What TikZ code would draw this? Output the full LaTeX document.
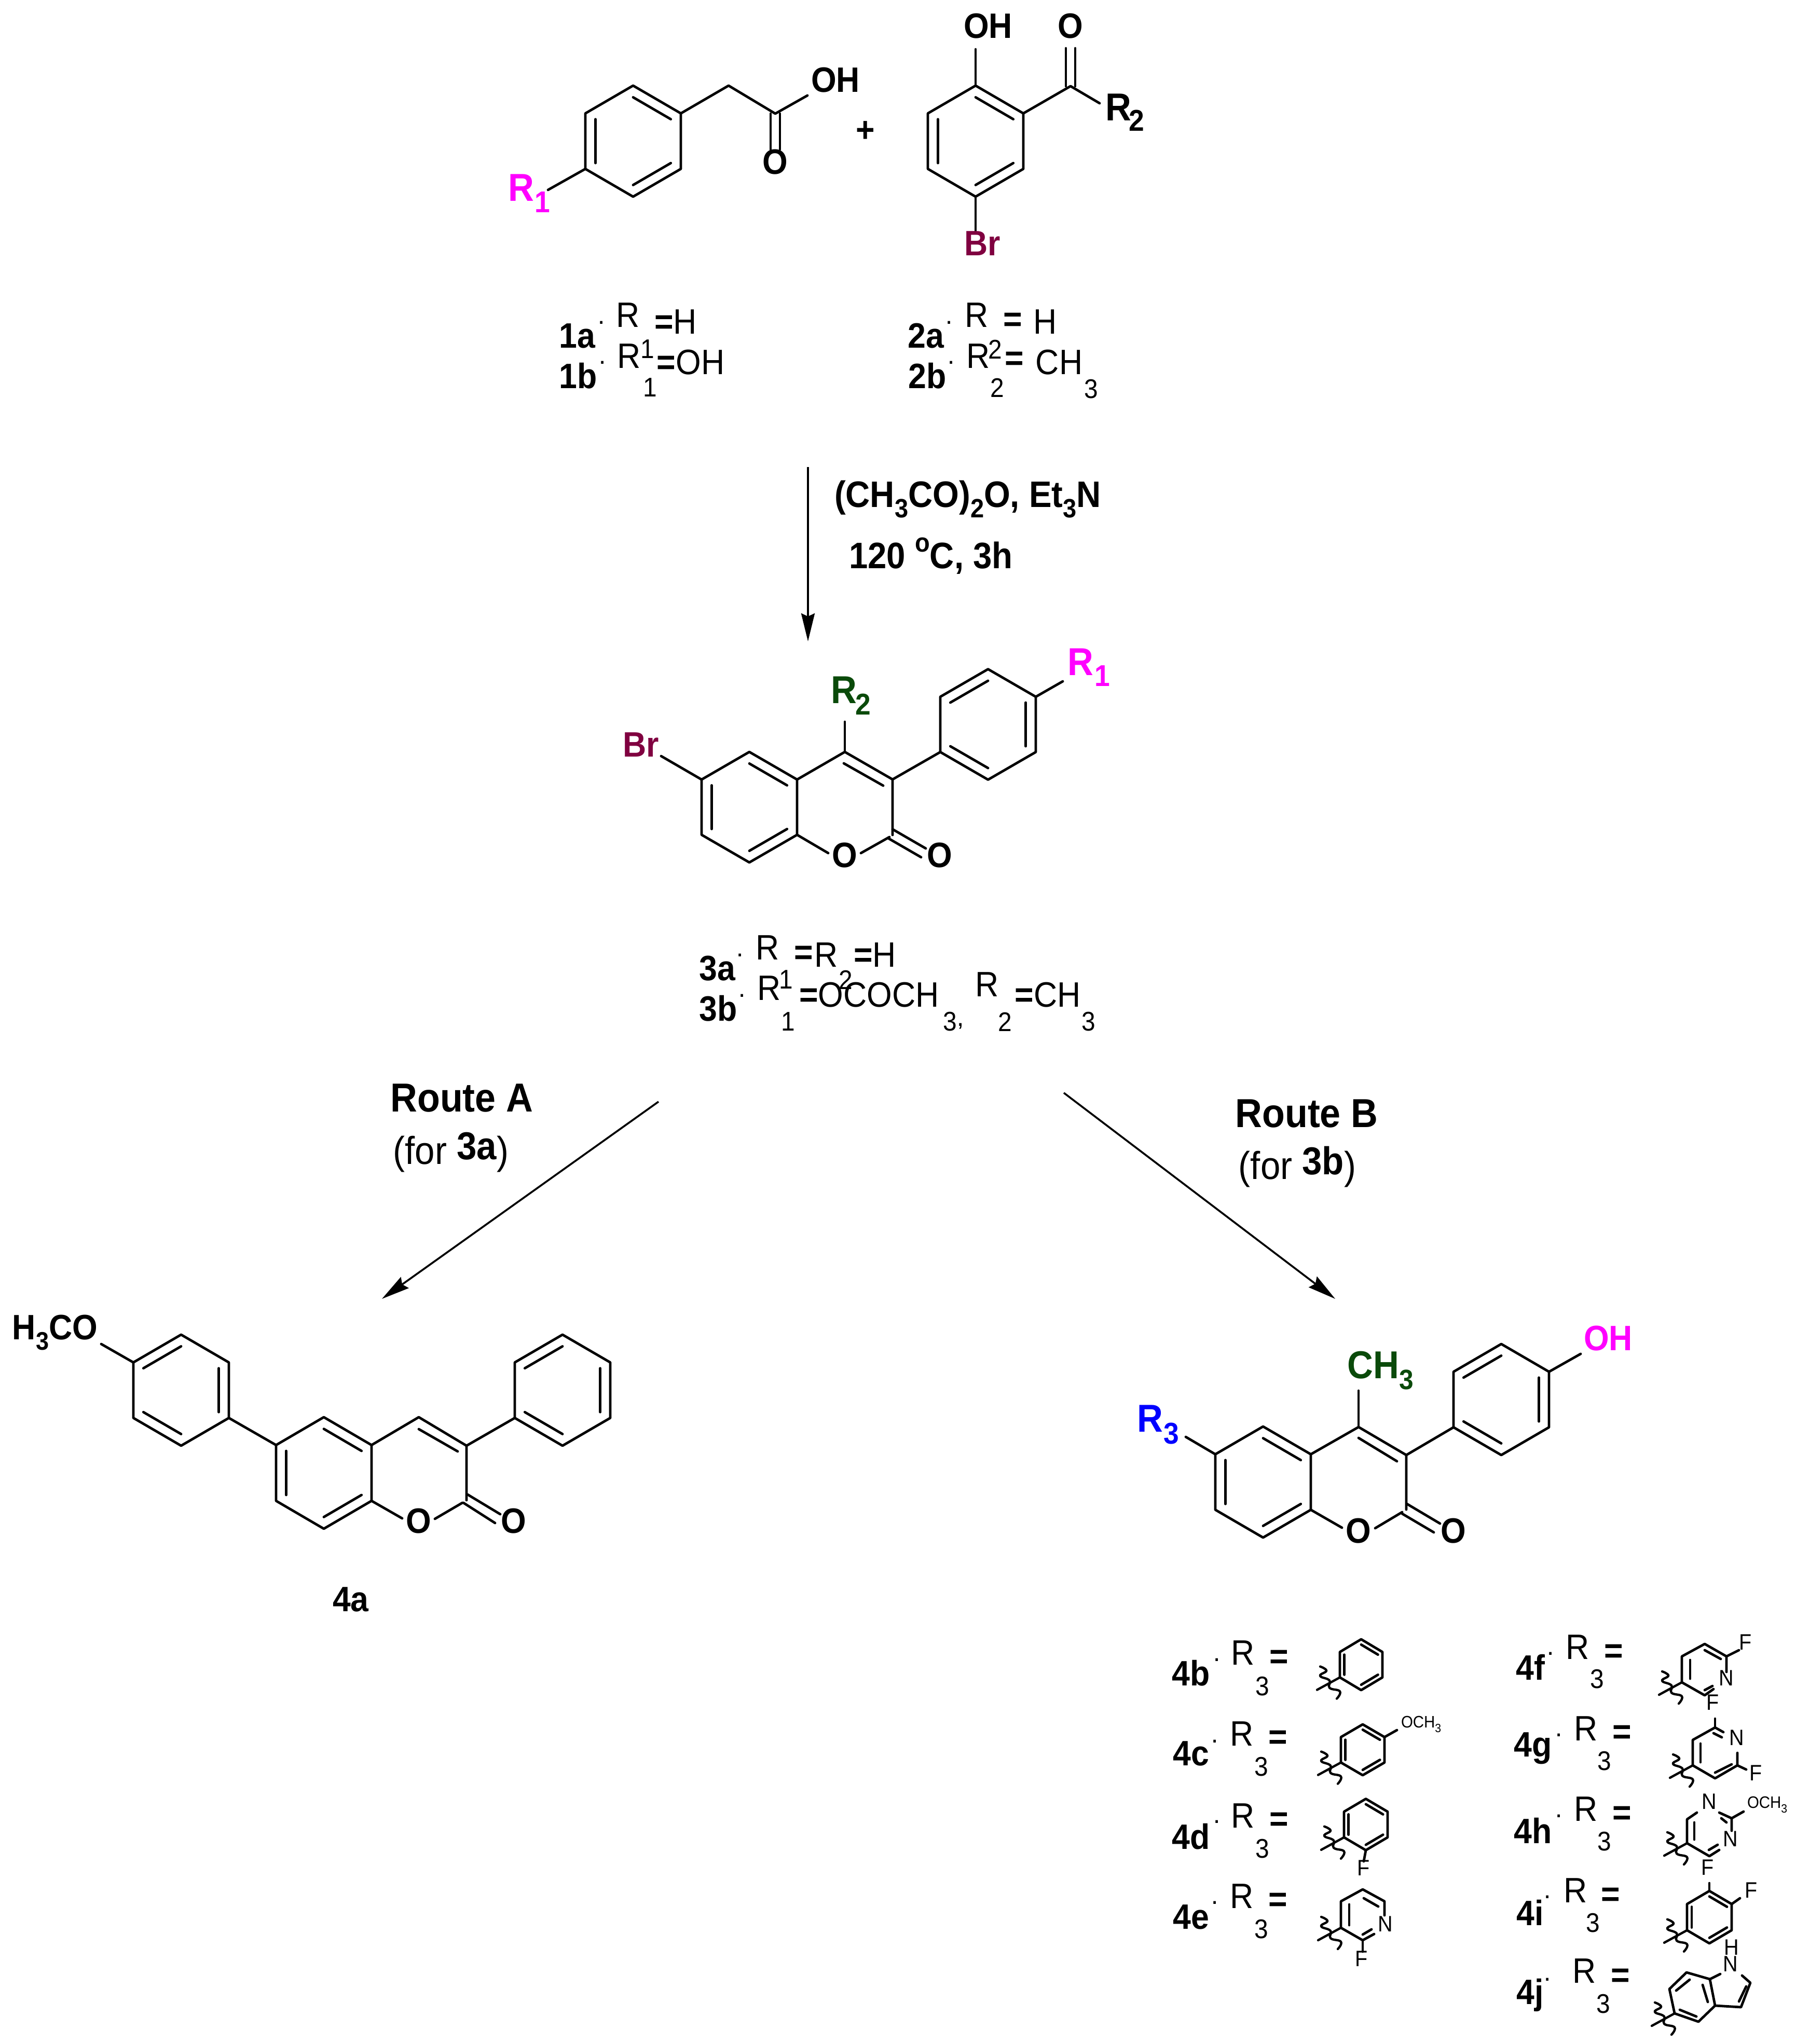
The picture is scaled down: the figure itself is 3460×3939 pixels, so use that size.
\documentclass[tikz,border=0pt]{standalone}
\usepackage{fontspec}
\setmainfont[FakeStretch=0.92]{Liberation Sans}
\usetikzlibrary{calc,arrows.meta}
\definecolor{brc}{HTML}{800040}
\definecolor{grn}{HTML}{0A4A0A}
\definecolor{mgt}{HTML}{FF00FF}
\definecolor{blu}{HTML}{0000FF}
\tikzset{
  bond/.style={line width=2.4pt,line cap=round,line join=round},
  thin bond/.style={line width=2.2pt,line cap=round,line join=round},
  wave/.style={line width=2.2pt,line cap=round},
  rxn/.style={line width=1.8pt,-{Stealth[length=27pt,width=13pt,inset=3pt]}},
  base txt/.style={inner sep=0pt,outer sep=0pt},
  atom/.style={base txt,font=\bfseries\fontsize{34}{36}\selectfont},
  rr/.style={base txt,font=\bfseries\fontsize{37.5}{38}\selectfont},
  rs/.style={base txt,font=\bfseries\fontsize{29}{30}\selectfont},
  lab/.style={base txt,font=\bfseries\fontsize{34}{36}\selectfont},
  tx/.style={base txt,font=\fontsize{34}{36}\selectfont},
  ts/.style={base txt,font=\fontsize{26}{28}\selectfont},
  cond/.style={base txt,font=\bfseries\fontsize{35.5}{37}\selectfont},
  route/.style={base txt,font=\bfseries\fontsize{39}{41}\selectfont},
  forx/.style={base txt,font=\fontsize{37.5}{39}\selectfont},
  dotx/.style={base txt,font=\bfseries\fontsize{18}{19}\selectfont},
  small/.style={base txt,font=\fontsize{21.5}{23}\selectfont},
  ome/.style={base txt,font=\fontsize{16}{17}\selectfont},
}
\newcommand\lo[1]{\raisebox{-.28em}{\scalebox{.72}{#1}}}
\newcommand\pt[3]{\coordinate (#1) at (#2,#3);}
\newcommand\eq{\textbf{=}}
% hexagon: name, cx, cy, half width, half height
\newcommand\hexr[5]{%
  \coordinate (#1c) at (#2,#3);
  \coordinate (#1v1) at (#2,#3-#5);
  \coordinate (#1v2) at (#2+#4,#3-#5/2);
  \coordinate (#1v3) at (#2+#4,#3+#5/2);
  \coordinate (#1v4) at (#2,#3+#5);
  \coordinate (#1v5) at (#2-#4,#3+#5/2);
  \coordinate (#1v6) at (#2-#4,#3-#5/2);
  \draw[bond] (#1v1)--(#1v2)--(#1v3)--(#1v4)--(#1v5)--(#1v6)--cycle;}
\newcommand\inn[3]{\draw[bond] ($(#1c)!.79!(#1v#2)$)--($(#1c)!.79!(#1v#3)$);}
% double bond: two parallel lines offset by (dx,dy)
\newcommand\dbond[4]{%
  \draw[bond] ($(#1)+(#3,#4)$)--($(#2)+(#3,#4)$);
  \draw[bond] ($(#1)-(#3,#4)$)--($(#2)-(#3,#4)$);}
% wavy attachment cut through a vertex
\newcommand\sq[1]{%
  \draw[thin bond,shift={(#1)}] (0,0)--(-44,24);
  \draw[wave,shift={(#1)}] plot[smooth,tension=.8] coordinates {(-38,-21) (-26,-13) (-38,-3) (-20,6) (-20,20) (0,27) (-6,41)};}
\begin{document}
\begin{tikzpicture}[x=0.5pt,y=-0.5pt]
\useasboundingbox (0,0) rectangle (3460,3939);
\fill[white] (0,0) rectangle (3460,3939);

%% ---------- compound 1 ----------
\hexr{ma}{1220}{272}{92}{107}
\inn{ma}{1}{2}\inn{ma}{5}{6}\inn{ma}{3}{4}
\pt{maC}{1404}{165}\pt{maD}{1494}{219}\pt{maE}{1556}{184}\pt{maF}{1494}{288}\pt{maG}{1056}{366}
\draw[bond] (mav2)--(maC)--(maD)--(maE);
\dbond{maD}{maF}{9}{0}
\draw[bond] (mav5)--(maG);
\node[atom] (maOH) at (1610,154) {OH};
\node[atom] (maO) at (1494,312) {O};
\node[rr,mgt] (maR) at (1004,362) {R};
\node[rs,mgt] (maRs) at (1045,390) {1};
\node[atom] (plus) at (1668,254) {+};

%% ---------- compound 2 ----------
\hexr{mb}{1880}{272}{92}{107}
\inn{mb}{1}{2}\inn{mb}{5}{6}\inn{mb}{3}{4}
\pt{mbA}{1880}{95}\pt{mbC}{2063}{166}\pt{mbD}{2063}{93}\pt{mbE}{2119}{199}\pt{mbF}{1880}{449}
\draw[bond] (mbv1)--(mbA);
\draw[bond] (mbv2)--(mbC)--(mbE);
\dbond{mbC}{mbD}{9}{0}
\draw[bond] (mbv4)--(mbF);
\node[atom] (mbOH) at (1904,50) {OH};
\node[atom] (mbO) at (2063,50) {O};
\node[rr] (mbR) at (2155,207) {R};
\node[rs] (mbRs) at (2190,232) {2};
\node[atom,brc] (mbBr) at (1893,469) {Br};

%% ---------- labels 1, 2 ----------
\node[lab] (l1a) at (1112,647) {1a};
\node[dotx] (d1a) at (1159,622) {.};
\node[tx] (r1a) at (1210,607) {R};
\node[tx] (e1a) at (1302,620) {\eq H};
\node[lab] (l1b) at (1114,724) {1b};
\node[dotx] (d1b) at (1161,699) {.};
\node[tx] (r1b) at (1212,686) {R};
\node[ts] (u1b) at (1248,673) {1};
\node[tx] (e1b) at (1331,698) {\eq OH};
\node[ts] (s1b) at (1253,747) {1};
\node[lab] (l2a) at (1784,647) {2a};
\node[dotx] (d2a) at (1829,622) {.};
\node[tx] (r2a) at (1882,607) {R};
\node[tx] (e2a) at (1952,621) {\eq};
\node[tx] (h2a) at (2014,620) {H};
\node[lab] (l2b) at (1787,724) {2b};
\node[dotx] (d2b) at (1833,699) {.};
\node[tx] (r2b) at (1885,686) {R};
\node[ts] (u2b) at (1918,673) {2};
\node[tx] (e2b) at (1955,696) {\eq};
\node[tx] (c2b) at (2041,698) {CH};
\node[ts] (s2b) at (1922,747) {2};
\node[ts] (t2b) at (2103,750) {3};

%% ---------- first arrow ----------
\pt{arA}{1557}{900}\pt{arB}{1557}{1236}
\draw[rxn] (arA)--(arB);
\node[cond,anchor=west] (c1) at (1608,962) {(CH\lo{3}CO)\lo{2}O, Et\lo{3}N};
\node[cond,anchor=west] (c2) at (1636,1071) {120 \raisebox{.45em}{\scalebox{.72}{o}}C, 3h};

%% ---------- compound 3 ----------
\hexr{mc}{1444}{1555.5}{92}{106.5}
\inn{mc}{1}{2}\inn{mc}{5}{6}\inn{mc}{3}{4}
\hexr{md}{1904}{1396}{92}{106.5}
\inn{md}{6}{1}\inn{md}{2}{3}\inn{md}{4}{5}
\pt{mc4}{1628}{1449}\pt{mc3}{1720}{1502}\pt{mc2}{1720}{1609}
\pt{mcA}{1596}{1644}\pt{mcB}{1659}{1644}\pt{mcC}{1714}{1613}
\pt{mcD}{1720}{1598}\pt{mcE}{1784}{1635}\pt{mcF}{1711}{1615}\pt{mcG}{1775}{1652}
\pt{mcH}{1626}{1471}\pt{mcI}{1702}{1514}\pt{mcJ}{1628}{1391}\pt{mcK}{1274}{1457}\pt{mcL}{2048}{1313}
\draw[bond] (mcv2)--(mc4)--(mc3)--(mc2);
\draw[bond] (mcH)--(mcI);
\draw[bond] (mcv3)--(mcA);
\draw[bond] (mcB)--(mcC);
\draw[bond] (mcD)--(mcE);
\draw[bond] (mcF)--(mcG);
\draw[bond] (mc4)--(mcJ);
\draw[bond] (mc3)--(mdv5);
\draw[bond] (mcv6)--(mcK);
\draw[bond] (mdv2)--(mcL);
\node[atom] (mcO) at (1628,1648) {O};
\node[atom] (mcO2) at (1811,1648) {O};
\node[atom,brc] (mcBr) at (1235,1435) {Br};
\node[rr,grn] (mcR) at (1626,1330) {R};
\node[rs,grn] (mcRs) at (1663,1357) {2};
\node[rr,mgt] (mdR) at (2082,1276) {R};
\node[rs,mgt] (mdRs) at (2124,1303) {1};

%% ---------- labels 3 ----------
\node[lab] (l3a) at (1382,1866) {3a};
\node[dotx] (d3a) at (1426,1841) {.};
\node[tx] (r3a) at (1479,1826) {R};
\node[tx] (e3a) at (1549,1841) {\eq};
\node[tx] (q3a) at (1592,1840) {R};
\node[tx] (f3a) at (1686,1840) {\eq H};
\node[ts] (u3a) at (1515,1888) {1};
\node[ts] (v3a) at (1630,1888) {2};
\node[lab] (l3b) at (1384,1943) {3b};
\node[dotx] (d3b) at (1430,1919) {.};
\node[tx] (r3b) at (1482,1904) {R};
\node[tx] (e3b) at (1675,1917) {\eq OCOCH};
\node[ts] (s3b) at (1519,1969) {1};
\node[ts] (t3b) at (1831,1969) {3};
\node[dotx] (k3b) at (1851,1978) {,};
\node[tx] (q3b) at (1902,1897) {R};
\node[tx] (f3b) at (2019,1917) {\eq CH};
\node[ts] (w3b) at (1937,1969) {2};
\node[ts] (x3b) at (2098,1969) {3};

%% ---------- routes ----------
\pt{raA}{1269}{2123}\pt{raB}{736}{2503}\pt{rbA}{2050}{2106}\pt{rbB}{2573}{2503}
\draw[rxn] (raA)--(raB);
\draw[rxn] (rbA)--(rbB);
\node[route] (ra) at (890,2116) {Route A};
\node[forx] (fa) at (869,2221) {(for \raisebox{.12em}{\textbf{3a}})};
\node[route] (rb) at (2518,2146) {Route B};
\node[forx] (fb) at (2500,2249) {(for \raisebox{.12em}{\textbf{3b}})};

%% ---------- compound 4a ----------
\hexr{me}{349}{2679}{92}{107}
\inn{me}{6}{1}\inn{me}{2}{3}\inn{me}{4}{5}
\hexr{mf}{624}{2838.5}{92}{107.5}
\inn{mf}{1}{2}\inn{mf}{3}{4}\inn{mf}{5}{6}
\hexr{mg}{1084}{2679}{92}{107}
\inn{mg}{6}{1}\inn{mg}{2}{3}\inn{mg}{4}{5}
\pt{mf4}{807}{2731}\pt{mf3}{899}{2786}\pt{mf2}{899}{2891}
\pt{mfA}{775}{2926}\pt{mfB}{838}{2927}\pt{mfC}{891}{2896}
\pt{mfD}{901}{2880}\pt{mfE}{964}{2918}\pt{mfF}{893}{2896}\pt{mfG}{954}{2935}
\pt{mfH}{807}{2754}\pt{mfI}{882}{2797}\pt{meA}{195}{2590}
\draw[bond] (mfv2)--(mf4)--(mf3)--(mf2);
\draw[bond] (mfH)--(mfI);
\draw[bond] (mfv3)--(mfA);
\draw[bond] (mfB)--(mfC);
\draw[bond] (mfD)--(mfE);
\draw[bond] (mfF)--(mfG);
\draw[bond] (mev3)--(mfv6);
\draw[bond] (mf3)--(mgv5);
\draw[bond] (mev6)--(meA);
\node[atom] (mfO) at (807,2931) {O};
\node[atom] (mfO2) at (990,2931) {O};
\node[atom] (meO) at (106,2568) {H\lo{3}CO};
\node[lab] (l4a) at (676,3082) {4a};

%% ---------- compound 4 ----------
\hexr{mh}{2434}{2856}{92}{107}
\inn{mh}{1}{2}\inn{mh}{3}{4}\inn{mh}{5}{6}
\hexr{mi}{2893}{2697}{92}{107}
\inn{mi}{6}{1}\inn{mi}{2}{3}\inn{mi}{4}{5}
\pt{mh4}{2618}{2750}\pt{mh3}{2710}{2804}\pt{mh2}{2710}{2909}
\pt{mhA}{2586}{2944}\pt{mhB}{2650}{2945}\pt{mhC}{2702}{2914}
\pt{mhD}{2711}{2898}\pt{mhE}{2775}{2936}\pt{mhF}{2702}{2917}\pt{mhG}{2763}{2953}
\pt{mhH}{2618}{2771}\pt{mhI}{2692}{2816}\pt{mhJ}{2618}{2680}\pt{mhK}{2285}{2769}\pt{miA}{3046}{2609}
\draw[bond] (mhv2)--(mh4)--(mh3)--(mh2);
\draw[bond] (mhH)--(mhI);
\draw[bond] (mhv3)--(mhA);
\draw[bond] (mhB)--(mhC);
\draw[bond] (mhD)--(mhE);
\draw[bond] (mhF)--(mhG);
\draw[bond] (mh4)--(mhJ);
\draw[bond] (mh3)--(miv5);
\draw[bond] (mhv6)--(mhK);
\draw[bond] (miv2)--(miA);
\node[atom] (mhO) at (2618,2950) {O};
\node[atom] (mhO2) at (2801,2950) {O};
\node[rr,blu] (mhR) at (2216,2734) {R};
\node[rs,blu] (mhRs) at (2257,2763) {3};
\node[base txt,font=\bfseries\fontsize{37.5}{39}\selectfont,grn] (mhCH) at (2660,2641) {CH\lo{3}};
\node[atom,mgt] (miOH) at (3099,2579) {OH};

%% ---------- R3 list, left column ----------
\node[lab] (l4b) at (2295,3224) {4b};
\node[dotx] (d4b) at (2345,3199) {.};
\node[tx] (r4b) at (2395,3185) {R};
\node[tx] (e4b) at (2465,3198) {\eq};
\node[ts] (s4b) at (2433,3250) {3};
\hexr{sb}{2623}{3208}{41}{49}
\inn{sb}{1}{2}\inn{sb}{3}{4}\inn{sb}{5}{6}
\sq{sbv5}

\node[lab] (l4c) at (2295,3379) {4c};
\node[dotx] (d4c) at (2341,3356) {.};
\node[tx] (r4c) at (2393,3341) {R};
\node[tx] (e4c) at (2463,3353) {\eq};
\node[ts] (s4c) at (2431,3405) {3};
\hexr{sc}{2626}{3372}{42}{49}
\inn{sc}{1}{2}\inn{sc}{3}{4}\inn{sc}{5}{6}
\sq{scv5}
\pt{scA}{2692}{3334}
\draw[bond] (scv2)--(scA);
\node[ome,anchor=west] (scO) at (2700,3323) {OCH\lo{3}};

\node[lab] (l4d) at (2295,3539) {4d};
\node[dotx] (d4d) at (2345,3511) {.};
\node[tx] (r4d) at (2395,3499) {R};
\node[tx] (e4d) at (2465,3511) {\eq};
\node[ts] (s4d) at (2433,3563) {3};
\hexr{sd}{2632}{3516}{42}{49.5}
\inn{sd}{1}{2}\inn{sd}{3}{4}\inn{sd}{5}{6}
\sq{sdv5}
\pt{sdA}{2628}{3587}
\draw[bond] (sdv4)--(sdA);
\node[small] (sdF) at (2628,3600) {F};

\node[lab] (l4e) at (2295,3694) {4e};
\node[dotx] (d4e) at (2341,3667) {.};
\node[tx] (r4e) at (2393,3654) {R};
\node[tx] (e4e) at (2463,3666) {\eq};
\node[ts] (s4e) at (2431,3718) {3};
\pt{se1}{2626}{3641}\pt{se2}{2668}{3664}\pt{se3}{2668}{3691}\pt{se4}{2626}{3739}\pt{se5}{2584}{3715}\pt{se6}{2584}{3664}
\pt{se7}{2648}{3727}\pt{se8}{2626}{3761}\pt{se9}{2600}{3670}\pt{se10}{2600}{3710}
\pt{se11}{2628}{3658}\pt{se12}{2656}{3674}\pt{se13}{2626}{3728}\pt{se14}{2643}{3718}
\draw[bond] (se3)--(se2)--(se1)--(se6)--(se5)--(se4)--(se7);
\draw[bond] (se9)--(se10);\draw[bond] (se11)--(se12);\draw[bond] (se13)--(se14);
\draw[bond] (se4)--(se8);
\sq{se5}
\node[small] (seN) at (2670,3708) {N};
\node[small] (seF) at (2624,3775) {F};

%% ---------- R3 list, right column ----------
\node[lab] (l4f) at (2949,3213) {4f};
\node[dotx] (d4f) at (2988,3187) {.};
\node[tx] (r4f) at (3040,3174) {R};
\node[tx] (e4f) at (3110,3187) {\eq};
\node[ts] (s4f) at (3078,3236) {3};
\pt{sf1}{3285}{3168}\pt{sf2}{3327}{3192}\pt{sf3}{3327}{3222}\pt{sf4}{3285}{3267}\pt{sf5}{3241}{3242}\pt{sf6}{3241}{3192}
\pt{sf7}{3302}{3255}\pt{sf8}{3351}{3180}
\pt{sf9}{3257}{3199}\pt{sf10}{3257}{3235}\pt{sf11}{3285}{3180}\pt{sf12}{3316}{3197}\pt{sf13}{3285}{3257}\pt{sf14}{3300}{3249}
\draw[bond] (sf3)--(sf2)--(sf1)--(sf6)--(sf5)--(sf4)--(sf7);
\draw[bond] (sf9)--(sf10);\draw[bond] (sf11)--(sf12);\draw[bond] (sf13)--(sf14);
\draw[bond] (sf2)--(sf8);
\sq{sf5}
\node[small] (sfN) at (3327,3234) {N};
\node[small] (sfF) at (3364,3165) {F};
\node[small] (sfG) at (3301,3281) {F};

\node[lab] (l4g) at (2954,3369) {4g};
\node[dotx] (d4g) at (3004,3344) {.};
\node[tx] (r4g) at (3056,3331) {R};
\node[tx] (e4g) at (3126,3343) {\eq};
\node[ts] (s4g) at (3092,3394) {3};
\pt{sg1}{3305}{3329}\pt{sg2}{3262}{3353}\pt{sg3}{3262}{3402}\pt{sg4}{3305}{3427}\pt{sg5}{3348}{3402}\pt{sg6}{3348}{3378}
\pt{sg7}{3305}{3312}\pt{sg8}{3321}{3338}\pt{sg9}{3365}{3410}
\pt{sg10}{3277}{3360}\pt{sg11}{3277}{3396}\pt{sg12}{3305}{3416}\pt{sg13}{3337}{3400}\pt{sg14}{3302}{3340}\pt{sg15}{3318}{3348}
\draw[bond] (sg8)--(sg1)--(sg2)--(sg3)--(sg4)--(sg5)--(sg6);
\draw[bond] (sg1)--(sg7);\draw[bond] (sg5)--(sg9);
\draw[bond] (sg10)--(sg11);\draw[bond] (sg12)--(sg13);\draw[bond] (sg14)--(sg15);
\sq{sg3}
\node[small] (sgN) at (3347,3349) {N};
\node[small] (sgF) at (3384,3417) {F};

\node[lab] (l4h) at (2954,3528) {4h};
\node[dotx] (d4h) at (3004,3500) {.};
\node[tx] (r4h) at (3056,3486) {R};
\node[tx] (e4h) at (3126,3499) {\eq};
\node[ts] (s4h) at (3092,3549) {3};
\pt{si1}{3270}{3493}\pt{si2}{3251}{3506}\pt{si3}{3251}{3552}\pt{si4}{3294}{3577}\pt{si5}{3313}{3565}
\pt{si6}{3313}{3493}\pt{si7}{3337}{3504}\pt{si8}{3337}{3528}\pt{si9}{3360}{3491}
\pt{si10}{3265}{3512}\pt{si11}{3265}{3545}\pt{si12}{3293}{3565}\pt{si13}{3310}{3555}\pt{si14}{3317}{3504}\pt{si15}{3327}{3512}
\draw[bond] (si1)--(si2)--(si3)--(si4)--(si5);
\draw[bond] (si6)--(si7)--(si8);
\draw[bond] (si7)--(si9);
\draw[bond] (si10)--(si11);\draw[bond] (si12)--(si13);\draw[bond] (si14)--(si15);
\sq{si3}
\node[small] (siN) at (3294,3472) {N};
\node[small] (siM) at (3335,3544) {N};
\node[small] (siF) at (3291,3599) {F};
\node[ome,anchor=west] (siO) at (3367,3478) {OCH\lo{3}};

\node[lab] (l4i) at (2949,3686) {4i};
\node[dotx] (d4i) at (2982,3656) {.};
\node[tx] (r4i) at (3036,3643) {R};
\node[tx] (e4i) at (3104,3656) {\eq};
\node[ts] (s4i) at (3070,3706) {3};
\hexr{sj}{3294}{3694.5}{43}{50.5}
\inn{sj}{1}{2}\inn{sj}{3}{4}\inn{sj}{5}{6}
\sq{sjv5}
\pt{sjA}{3294}{3629}\pt{sjB}{3353}{3658}
\draw[bond] (sjv1)--(sjA);
\draw[bond] (sjv2)--(sjB);
\node[small] (sjF) at (3375,3643) {F};

\node[lab] (l4j) at (2949,3845) {4j};
\node[dotx] (d4j) at (2982,3815) {.};
\node[tx] (r4j) at (3053,3798) {R};
\node[tx] (e4j) at (3123,3812) {\eq};
\node[ts] (s4j) at (3090,3862) {3};
\pt{sk1}{3250}{3801}\pt{sk2}{3295}{3814}\pt{sk3}{3305}{3865}\pt{sk4}{3273}{3896}\pt{sk5}{3227}{3880}\pt{sk6}{3217}{3833}
\pt{sk7}{3315}{3804}\pt{sk8}{3357}{3807}\pt{sk9}{3373}{3821}\pt{sk10}{3355}{3868}
\pt{sk11}{3365}{3828}\pt{sk12}{3351}{3857}\pt{sk13}{3230}{3836}\pt{sk14}{3256}{3815}\pt{sk15}{3281}{3825}\pt{sk16}{3291}{3858}\pt{sk17}{3237}{3873}\pt{sk18}{3269}{3886}
\draw[bond] (sk1)--(sk2)--(sk3)--(sk4)--(sk5)--(sk6)--cycle;
\draw[bond] (sk2)--(sk7);
\draw[bond] (sk8)--(sk9)--(sk10)--(sk3);
\draw[bond] (sk11)--(sk12);\draw[bond] (sk13)--(sk14);\draw[bond] (sk15)--(sk16);\draw[bond] (sk17)--(sk18);
\sq{sk5}
\node[small] (skN) at (3335,3785) {N};
\node[small] (skH) at (3337,3753) {H};
\end{tikzpicture}
\end{document}
